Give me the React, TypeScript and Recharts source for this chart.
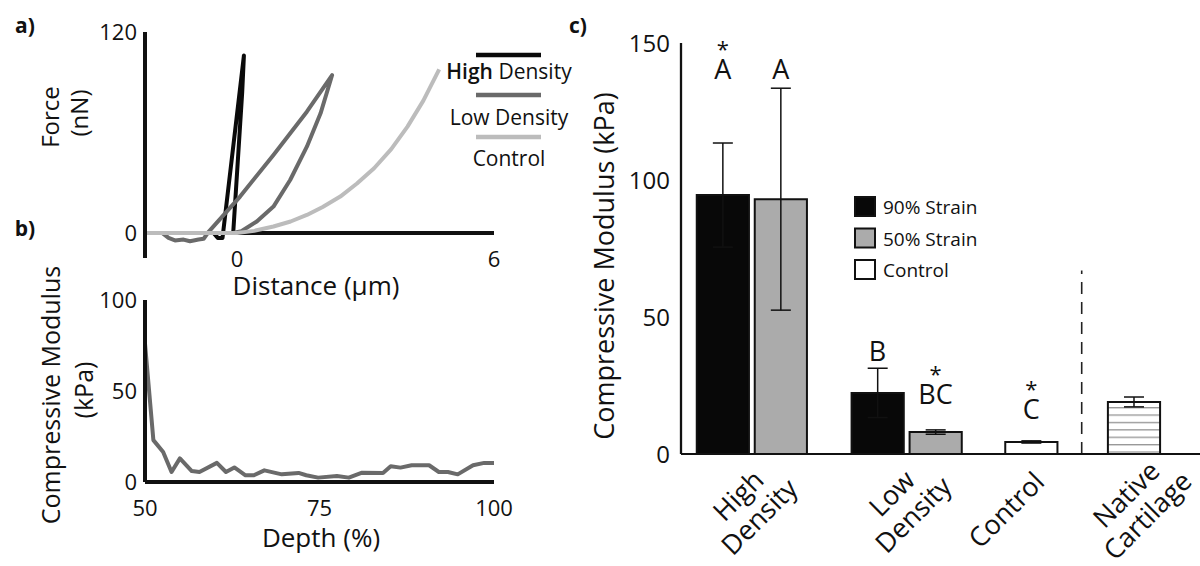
import React from "react"
import {
  LineChart,
  Line,
  XAxis,
  YAxis,
  ReferenceLine,
  Legend,
  ComposedChart,
  Bar,
  Cell,
  ErrorBar,
  Scatter,
} from "recharts"

const FONT = "'Open Sans', sans-serif"
const INK = "#111"

// a) force vs distance
const HIGH_DENSITY = [
  { d: -0.55, f: 0 }, { d: -0.45, f: -3 }, { d: -0.34, f: -3 },
  { d: 0.16, f: 106 }, { d: 0.12, f: 84 }, { d: -0.09, f: 0 }, { d: 0, f: 0 },
]
const LOW_DENSITY = [
  { d: -1.75, f: 0 }, { d: -1.6, f: -3 }, { d: -1.45, f: -4.5 }, { d: -1.25, f: -4 },
  { d: -1.1, f: -5 }, { d: -0.9, f: -4 }, { d: -0.78, f: -3.5 }, { d: -0.67, f: 0.5 },
  { d: 0.07, f: 21.7 }, { d: 0.85, f: 46.6 }, { d: 1.63, f: 72.4 }, { d: 2.22, f: 94.3 },
  { d: 1.95, f: 71.4 }, { d: 1.63, f: 51.5 }, { d: 1.24, f: 31.6 }, { d: 0.85, f: 15.7 },
  { d: 0.46, f: 6.8 }, { d: 0.1, f: 1 }, { d: -0.09, f: 0 },
]
const CONTROL_CURVE = [
  { d: -2.15, f: 0 }, { d: -1, f: 0 }, { d: 0, f: 0 }, { d: 0.4, f: 1.2 }, { d: 0.85, f: 3.8 },
  { d: 1.25, f: 6.8 }, { d: 1.63, f: 10.7 }, { d: 2.0, f: 15.5 }, { d: 2.41, f: 21.7 },
  { d: 2.8, f: 29.5 }, { d: 3.2, f: 38.6 }, { d: 3.6, f: 50 }, { d: 3.98, f: 63.5 },
  { d: 4.35, f: 79 }, { d: 4.72, f: 97.7 },
]
const FORCE_TICKS = [0, 120]
const DISTANCE_TICKS = [0, 6]

// b) modulus along depth
const DEPTH = [
  50, 51.2, 52.6, 53.8, 55.0, 56.7, 57.8, 60.3, 61.6, 62.8, 64.4, 65.6, 67.1, 69.6, 72.0, 73.1,
  74.8, 77.5, 79.2, 81.1, 84.1, 85.2, 86.6, 88.2, 90.7, 92.1, 93.4, 94.8, 97.0, 98.6, 100,
]
const DEPTH_MODULUS = [
  76, 23, 16.5, 5.5, 13, 6, 5.5, 10.5, 5.5, 8, 3.7, 3.7, 6.4, 4.2, 5, 3.7,
  2.4, 3.3, 2.4, 5.1, 5, 8.6, 7.9, 9.2, 9.2, 5.5, 5.5, 4.2, 9.2, 10.5, 10.5,
]
const DEPTH_TICKS = [50, 75, 100]
const MODULUS_B_TICKS = [0, 50, 100]

// c) bulk modulus per group
const BAR_POS = [1, 2, 3.67, 4.67, 6.32, 8.09]
const BAR_VALUES = [94.5, 93, 22.3, 8, 4.4, 19]
const BAR_ERRORS = [19, 40.5, 9, 0.8, 0.4, 1.8]
const BAR_FILLS = ["#080808", "#ababab", "#080808", "#ababab", "#ffffff", "url(#stripes)"]
const LETTERS = ["A", "A", "B", "BC", "C"]
const LETTER_STAR = [true, false, false, true, true]
const LETTER_Y = [141, 141, 38, 22.3, 16.8]
const GROUP_POS = [1.5, 4.17, 6.32, 8.09]
const GROUP_LABELS = [["High", "Density"], ["Low", "Density"], ["Control"], ["Native", "Cartilage"]]
const MODULUS_C_TICKS = [0, 50, 100, 150]
const DIVIDER_X = 7.19
const DIVIDER_TOP = 67

// small hand nudges of the slanted group labels (px), as in the original figure
const TICK_NUDGE = [[-4, 0], [-5, -2], [-26, 4], [2, -1]]

const barData = BAR_POS.map((pos, i) => ({ pos, value: BAR_VALUES[i], err: BAR_ERRORS[i] }))
const letterData = LETTERS.map((text, i) => ({
  pos: BAR_POS[i],
  ly: LETTER_Y[i],
  text,
  star: LETTER_STAR[i],
}))
const depthData = DEPTH.map((d, i) => ({ d, m: DEPTH_MODULUS[i] }))

function NumberTick(props: any) {
  const { x, y, payload, shift = 0, size = 22 } = props
  return (
    <text x={x} y={y + shift} textAnchor="middle" dominantBaseline="central"
      fontSize={size} fontFamily={FONT} fill={INK}>
      {payload.value}
    </text>
  )
}

function GroupTick(props: any) {
  const { x, y, index } = props
  const lines = GROUP_LABELS[index] || []
  const [nx, ny] = TICK_NUDGE[index] || [0, 0]
  const cx = x + nx
  const cy = y + 51 + ny
  return (
    <text transform={`rotate(-45 ${cx} ${cy})`} textAnchor="middle" dominantBaseline="central"
      fontSize={27} fontFamily={FONT} fill={INK}>
      {lines.map((l, i) => (
        <tspan key={l} x={cx} y={cy + (i - (lines.length - 1) / 2) * 30}>{l}</tspan>
      ))}
    </text>
  )
}

// significance letter, with the asterisk stacked above it in the same label
function LetterMark(props: any) {
  const { cx, cy, payload } = props
  return (
    <text textAnchor="middle" dominantBaseline="central" fontFamily={FONT} fill={INK}>
      {payload.star && <tspan x={cx} y={cy - 20} fontSize={22}>*</tspan>}
      <tspan x={cx} y={cy} fontSize={27}>{payload.text}</tspan>
    </text>
  )
}

function CurveLegend() {
  const rows = [
    { color: "#0a0a0a", y: 15, ty: 31, bold: "High", rest: " Density" },
    { color: "#6a6a6a", y: 55, ty: 77, bold: "", rest: "Low Density" },
    { color: "#bcbcbc", y: 97, ty: 118, bold: "", rest: "Control" },
  ]
  return (
    <svg width={170} height={140}>
      {rows.map((r) => (
        <g key={r.rest}>
          <line x1={46} x2={111} y1={r.y} y2={r.y} stroke={r.color} strokeWidth={4.5} />
          <text x={79} y={r.ty} textAnchor="middle" dominantBaseline="central"
            fontSize={21} fontFamily={FONT} fill={INK}>
            {r.bold && <tspan fontWeight={600}>{r.bold}</tspan>}
            {r.rest}
          </text>
        </g>
      ))}
    </svg>
  )
}

function BarLegend() {
  const rows = [
    { fill: "#080808", label: "90% Strain" },
    { fill: "#ababab", label: "50% Strain" },
    { fill: "#ffffff", label: "Control" },
  ]
  return (
    <svg width={150} height={100}>
      {rows.map((r, i) => (
        <g key={r.label}>
          <rect x={10} y={7 + i * 31.5} width={20} height={19} fill={r.fill} stroke={INK} strokeWidth={2} />
          <text x={38} y={17 + i * 31.5} dominantBaseline="central" fontSize={19}
            fontFamily={FONT} fill={INK}>{r.label}</text>
        </g>
      ))}
    </svg>
  )
}

export default function App() {
  return (
    <div style={{ position: "absolute", left: 0, top: 0, width: 1200, height: 566, background: "#fff", overflow: "hidden" }}>
      {/* a) */}
      <div style={{ position: "absolute", left: 0, top: 0 }}>
        <LineChart width={600} height={300} margin={{ top: 32, right: 106, bottom: 12, left: 85 }}>
          <XAxis dataKey="d" type="number" domain={[-2.15, 6]} ticks={DISTANCE_TICKS} allowDataOverflow
            axisLine={false} tickLine={false} tickSize={0} tickMargin={0} height={30}
            tick={(p: any) => <NumberTick {...p} shift={0} />} />
          <YAxis type="number" domain={[-15, 120]} ticks={FORCE_TICKS} width={60}
            axisLine={{ stroke: INK, strokeWidth: 4 }} tickLine={false} tickSize={0} tickMargin={8}
            tick={{ fill: INK, fontSize: 22, fontFamily: FONT }} />
          <ReferenceLine y={0} stroke={INK} strokeWidth={4} />
          <Line data={HIGH_DENSITY} dataKey="f" name="High Density" type="linear" stroke="#0a0a0a"
            strokeWidth={4} dot={false} isAnimationActive={false} strokeLinejoin="round" />
          <Line data={LOW_DENSITY} dataKey="f" name="Low Density" type="linear" stroke="#6a6a6a"
            strokeWidth={4} dot={false} isAnimationActive={false} strokeLinejoin="round" />
          <Line data={CONTROL_CURVE} dataKey="f" name="Control" type="linear" stroke="#bcbcbc"
            strokeWidth={4} dot={false} isAnimationActive={false} strokeLinejoin="round" />
          <Legend verticalAlign="middle" align="center" content={() => <CurveLegend />}
            wrapperStyle={{ left: 430, top: 40, width: 170, height: 140 }} />
        </LineChart>
      </div>

      {/* b) */}
      <div style={{ position: "absolute", left: 0, top: 280 }}>
        <LineChart width={600} height={286} data={depthData} margin={{ top: 20, right: 106, bottom: 0, left: 85 }}>
          <XAxis dataKey="d" type="number" domain={[50, 100]} ticks={DEPTH_TICKS}
            axisLine={{ stroke: INK, strokeWidth: 4 }} tickLine={false} tickSize={0} tickMargin={0} height={84}
            tick={(p: any) => <NumberTick {...p} shift={25} />} />
          <YAxis type="number" domain={[0, 100]} ticks={MODULUS_B_TICKS} width={60}
            axisLine={{ stroke: INK, strokeWidth: 4 }} tickLine={false} tickSize={0} tickMargin={8}
            tick={{ fill: INK, fontSize: 22, fontFamily: FONT }} />
          <Line dataKey="m" type="linear" stroke="#6a6a6a" strokeWidth={4} dot={false}
            isAnimationActive={false} strokeLinejoin="round" />
        </LineChart>
      </div>

      {/* c) */}
      <div style={{ position: "absolute", left: 560, top: 0 }}>
        <ComposedChart width={640} height={566} data={barData} margin={{ top: 43, right: 0, bottom: 0, left: 61 }}>
          <defs>
            <pattern id="stripes" patternUnits="userSpaceOnUse" width="8" height="7.4">
              <rect width="8" height="7.4" fill="#fff" />
              <line x1="0" y1="0.7" x2="8" y2="0.7" stroke="#8a8a8a" strokeWidth="1.2" />
            </pattern>
          </defs>
          <XAxis dataKey="pos" type="number" domain={[0.28, 9.23]} ticks={GROUP_POS} interval={0} allowDataOverflow
            axisLine={{ stroke: INK, strokeWidth: 2 }} tickLine={false} tickSize={0} tickMargin={0} height={112}
            tick={(p: any) => <GroupTick {...p} />} />
          <YAxis type="number" domain={[0, 150]} ticks={MODULUS_C_TICKS} width={60}
            axisLine={{ stroke: INK, strokeWidth: 2.3 }} tickLine={false} tickSize={0} tickMargin={11}
            tick={{ fill: INK, fontSize: 24, fontFamily: FONT }} />
          <ReferenceLine segment={[{ x: DIVIDER_X, y: 0 }, { x: DIVIDER_X, y: DIVIDER_TOP }]}
            stroke="#222" strokeWidth={1.6} strokeDasharray="12 8" />
          <Bar dataKey="value" barSize={58} stroke={INK} strokeWidth={2} isAnimationActive={false}>
            {barData.map((_, i) => (
              <Cell key={i} fill={BAR_FILLS[i]} />
            ))}
            <ErrorBar dataKey="err" width={10} stroke={INK} strokeWidth={1.5} direction="y" />
          </Bar>
          <Scatter data={letterData} dataKey="ly" isAnimationActive={false} shape={(p: any) => <LetterMark {...p} />} />
          <Legend verticalAlign="middle" align="center" content={() => <BarLegend />}
            wrapperStyle={{ left: 285, top: 190, width: 150, height: 100 }} />
        </ComposedChart>
      </div>

      {/* panel letters and axis titles */}
      <svg width={1200} height={566} style={{ position: "absolute", left: 0, top: 0, pointerEvents: "none" }}
        fontFamily={FONT} fill={INK}>
        <text x={25} y={25} textAnchor="middle" dominantBaseline="central" fontSize={21} fontWeight={700}>a)</text>
        <text x={25} y={228} textAnchor="middle" dominantBaseline="central" fontSize={21} fontWeight={700}>b)</text>
        <text x={578} y={25} textAnchor="middle" dominantBaseline="central" fontSize={21} fontWeight={700}>c)</text>
        <text transform="rotate(-90 49 117)" x={49} y={117} textAnchor="middle" dominantBaseline="central" fontSize={24}>Force</text>
        <text transform="rotate(-90 78 113)" x={78} y={113} textAnchor="middle" dominantBaseline="central" fontSize={24}>(nN)</text>
        <text x={316} y={285} textAnchor="middle" dominantBaseline="central" fontSize={26}>Distance (µm)</text>
        <text transform="rotate(-90 50 395)" x={50} y={395} textAnchor="middle" dominantBaseline="central" fontSize={25}>Compressive Modulus</text>
        <text transform="rotate(-90 83 390)" x={83} y={390} textAnchor="middle" dominantBaseline="central" fontSize={25}>(kPa)</text>
        <text x={321} y={537} textAnchor="middle" dominantBaseline="central" fontSize={26}>Depth (%)</text>
        <text transform="rotate(-90 603 266)" x={603} y={266} textAnchor="middle" dominantBaseline="central" fontSize={27}>Compressive Modulus (kPa)</text>
      </svg>
    </div>
  )
}
